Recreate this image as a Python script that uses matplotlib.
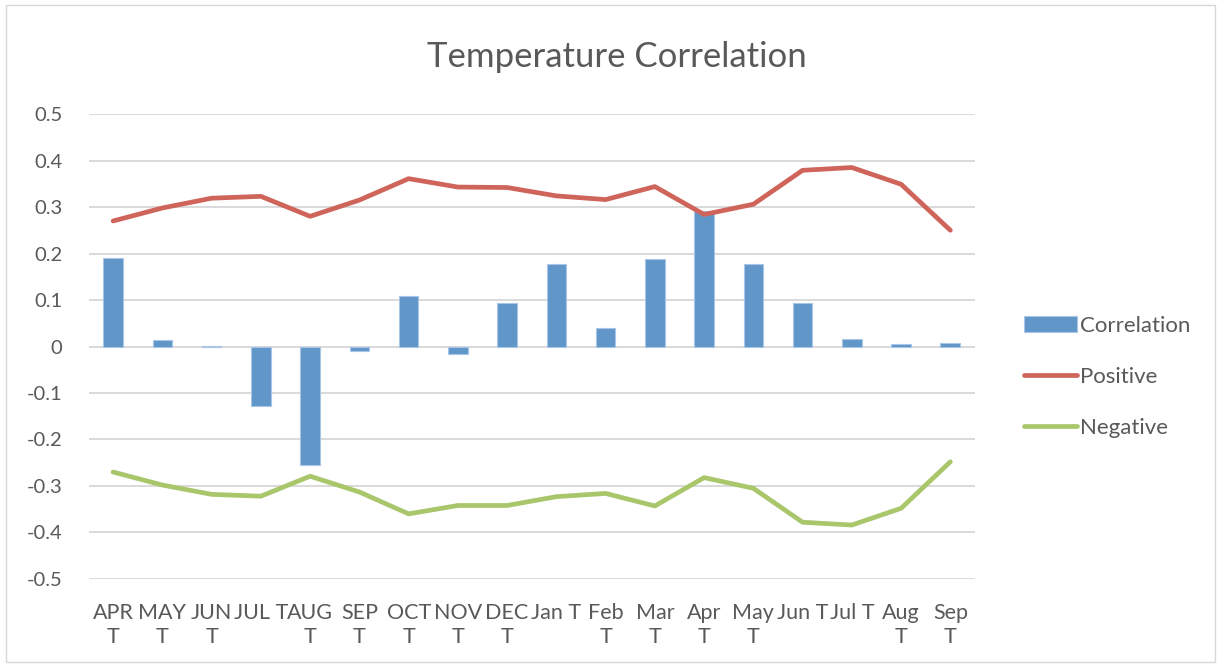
"""Temperature correlation chart: monthly correlation bars with positive/negative bands."""

import matplotlib

matplotlib.use("Agg")
import matplotlib.pyplot as plt
from matplotlib.patches import Rectangle

plt.rcParams["font.family"] = ["Lato", "DejaVu Sans"]

MONTHS = [
    "APR\nT", "MAY\nT", "JUN\nT", "JUL T", "AUG\nT", "SEP\nT", "OCT\nT", "NOV\nT", "DEC\nT",
    "Jan T", "Feb\nT", "Mar\nT", "Apr\nT", "May\nT", "Jun T", "Jul T", "Aug\nT", "Sep\nT",
]
correlation = [
    0.190, 0.015, 0.002, -0.128, -0.254, -0.010, 0.108, -0.017, 0.094,
    0.178, 0.040, 0.188, 0.291, 0.178, 0.094, 0.017, 0.005, 0.007,
]
positive = [
    0.270, 0.298, 0.319, 0.323, 0.280, 0.315, 0.361, 0.343, 0.342,
    0.324, 0.316, 0.344, 0.284, 0.306, 0.379, 0.385, 0.349, 0.250,
]
negative = [
    -0.270, -0.298, -0.318, -0.322, -0.279, -0.313, -0.360, -0.342, -0.342,
    -0.323, -0.316, -0.343, -0.282, -0.305, -0.378, -0.384, -0.348, -0.248,
]
y_ticks = [0.5, 0.4, 0.3, 0.2, 0.1, 0, -0.1, -0.2, -0.3, -0.4, -0.5]

BLUE = "#6196C9"
RED = "#CF645B"
GREEN = "#A9C66B"
TEXT = "#595959"


def main() -> None:
    fig = plt.figure(figsize=(12.21, 6.67), dpi=100)
    ax = fig.add_axes([0.0725, 0.132, 0.726, 0.697])

    x = list(range(len(MONTHS)))
    bars = ax.bar(x, correlation, width=0.4, color=BLUE, edgecolor="#A9C6E6",
                  linewidth=0.8, label="Correlation", zorder=2)
    (pos_line,) = ax.plot(x, positive, color=RED, linewidth=3.4,
                          solid_capstyle="round", label="Positive", zorder=3)
    (neg_line,) = ax.plot(x, negative, color=GREEN, linewidth=3.4,
                          solid_capstyle="round", label="Negative", zorder=3)

    ax.set_xlim(-0.5, len(MONTHS) - 0.5)
    ax.set_ylim(-0.5, 0.5)
    ax.set_yticks(y_ticks)
    ax.set_yticklabels([f"{v:g}" for v in y_ticks])
    ax.set_xticks(x)
    ax.set_xticklabels(MONTHS, linespacing=1.25)
    ax.tick_params(axis="y", length=0, pad=19, labelsize=14.5, labelcolor=TEXT)
    ax.tick_params(axis="x", length=0, pad=17, labelsize=15.5, labelcolor=TEXT)

    ax.grid(axis="y", color="#D9D9D9", linewidth=1.4, zorder=0)
    ax.set_axisbelow(True)
    for side in ax.spines.values():
        side.set_visible(False)

    fig.text(0.505, 0.915, "Temperature Correlation", ha="center", va="center",
             fontsize=25, color=TEXT)

    ax.legend(handles=[bars, pos_line, neg_line], loc="center left",
              bbox_to_anchor=(0.822, 0.435), bbox_transform=fig.transFigure,
              frameon=False, fontsize=16, labelcolor=TEXT, handlelength=2.4,
              handletextpad=0.15, labelspacing=1.4)

    # light frame around the whole chart
    fig.patches.append(Rectangle((0.005, 0.007), 0.99, 0.985, transform=fig.transFigure,
                                 fill=False, edgecolor="#D9D9D9", linewidth=1.0))

    fig.savefig("out.png", dpi=100)


if __name__ == "__main__":
    main()
